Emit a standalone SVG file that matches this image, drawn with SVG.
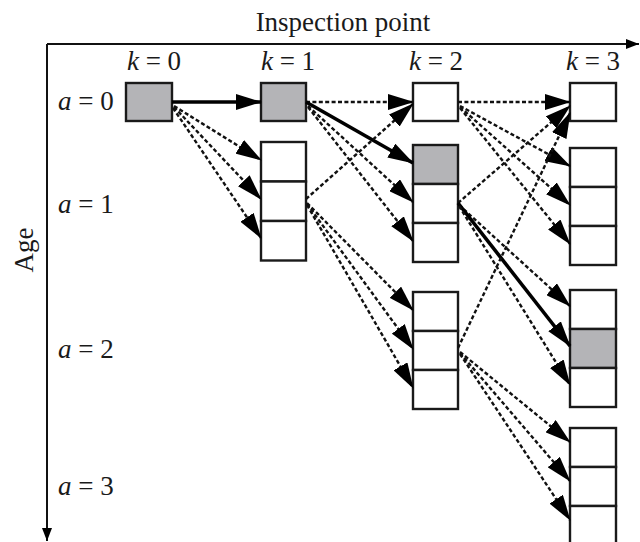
<svg xmlns="http://www.w3.org/2000/svg" width="640" height="542" viewBox="0 0 640 542">
<style>
.cell{fill:#ffffff;stroke:#1a1a1a;stroke-width:2.4}
.gray{fill:#b4b4b7}
.lbl{font-family:"Liberation Serif","Times New Roman",serif;font-size:27px;fill:#1a1a1a}
.it{font-style:italic}
.axis{stroke:#111;stroke-width:2;fill:none}
.dash{stroke:#111;stroke-width:2.4;stroke-dasharray:4 2.4;fill:none;marker-end:url(#ah)}
.solid{stroke:#000;stroke-width:3.6;fill:none;marker-end:url(#ah)}
</style>
<defs>
<marker id="ah" markerUnits="userSpaceOnUse" viewBox="0 0 26 16" markerWidth="26" markerHeight="16" refX="25" refY="8" orient="auto">
<path d="M0,0 L26,8 L0,16 z" fill="#000"/>
</marker>
<marker id="ax" markerUnits="userSpaceOnUse" viewBox="0 0 13 10" markerWidth="13" markerHeight="10" refX="13" refY="5" orient="auto">
<path d="M0,0 L13,5 L0,10 z" fill="#000"/>
</marker>
</defs>
<rect width="640" height="542" fill="#ffffff"/>

<g id="axes">
<path class="axis" d="M47,44 H639" marker-end="url(#ax)"/>
<path class="axis" d="M47,44 V541" marker-end="url(#ax)"/>
<text class="lbl" x="343" y="31" text-anchor="middle">Inspection point</text>
<text class="lbl" transform="translate(33,250) rotate(-90)" text-anchor="middle">Age</text>
</g>

<g id="labels">
<text class="lbl" x="154" y="70" text-anchor="middle"><tspan class="it">k</tspan> = 0</text>
<text class="lbl" x="288" y="70" text-anchor="middle"><tspan class="it">k</tspan> = 1</text>
<text class="lbl" x="436" y="70" text-anchor="middle"><tspan class="it">k</tspan> = 2</text>
<text class="lbl" x="593" y="70" text-anchor="middle"><tspan class="it">k</tspan> = 3</text>
<text class="lbl" x="58" y="110"><tspan class="it">a</tspan> = 0</text>
<text class="lbl" x="58" y="213"><tspan class="it">a</tspan> = 1</text>
<text class="lbl" x="58" y="358"><tspan class="it">a</tspan> = 2</text>
<text class="lbl" x="58" y="495"><tspan class="it">a</tspan> = 3</text>
</g>

<g id="k0a0"><rect class="cell gray" x="126" y="83" width="46" height="38"/></g>
<g id="k1a0"><rect class="cell gray" x="261" y="83" width="45" height="38"/></g>
<g id="k1a1">
<rect class="cell" x="261" y="142" width="45" height="39.5"/>
<rect class="cell" x="261" y="181.5" width="45" height="39.5"/>
<rect class="cell" x="261" y="221" width="45" height="39.5"/>
</g>
<g id="k2a0"><rect class="cell" x="413" y="83" width="45" height="38"/></g>
<g id="k2a1">
<rect class="cell gray" x="413" y="145" width="45" height="39"/>
<rect class="cell" x="413" y="184" width="45" height="39"/>
<rect class="cell" x="413" y="223" width="45" height="39"/>
</g>
<g id="k2a2">
<rect class="cell" x="413" y="292" width="45" height="39"/>
<rect class="cell" x="413" y="331" width="45" height="39"/>
<rect class="cell" x="413" y="370" width="45" height="39"/>
</g>
<g id="k3a0"><rect class="cell" x="570" y="83" width="46" height="38"/></g>
<g id="k3a1">
<rect class="cell" x="570" y="148" width="46" height="39"/>
<rect class="cell" x="570" y="187" width="46" height="39"/>
<rect class="cell" x="570" y="226" width="46" height="39"/>
</g>
<g id="k3a2">
<rect class="cell" x="570" y="290" width="46" height="39"/>
<rect class="cell gray" x="570" y="329" width="46" height="39"/>
<rect class="cell" x="570" y="368" width="46" height="39"/>
</g>
<g id="k3a3">
<rect class="cell" x="570" y="428" width="46" height="39"/>
<rect class="cell" x="570" y="467" width="46" height="39"/>
<rect class="cell" x="570" y="506" width="46" height="39"/>
</g>

<g id="connectors">
<path class="solid" d="M172,102 L261,102"/>
<path class="dash" d="M174,106 L261,160"/>
<path class="dash" d="M174,107 L261,199"/>
<path class="dash" d="M173,108 L261,238"/>

<path class="dash" d="M306,102 L413,102"/>
<path class="solid" d="M306,102 L413,163"/>
<path class="dash" d="M308,106 L413,202"/>
<path class="dash" d="M308,107 L413,241"/>

<path class="dash" d="M306,199 L413,104"/>
<path class="dash" d="M307,203 L413,310"/>
<path class="dash" d="M307,204 L413,349"/>
<path class="dash" d="M307,205 L413,388"/>

<path class="dash" d="M458,102 L570,102"/>
<path class="dash" d="M460,106 L570,166"/>
<path class="dash" d="M460,107 L570,205"/>
<path class="dash" d="M460,108 L570,244"/>

<path class="dash" d="M458,203 L570,106"/>
<path class="dash" d="M459,205 L570,306"/>
<path class="solid" d="M458,203 L570,346"/>
<path class="dash" d="M459,206 L570,385"/>

<path class="dash" d="M458,348 L570,113"/>
<path class="dash" d="M460,352 L570,442"/>
<path class="dash" d="M460,353 L570,481"/>
<path class="dash" d="M460,354 L570,520"/>
</g>
</svg>
